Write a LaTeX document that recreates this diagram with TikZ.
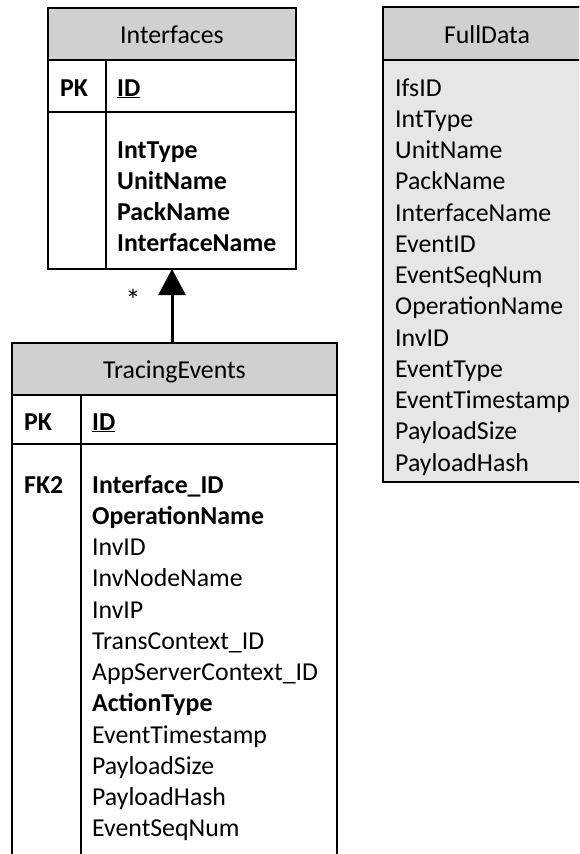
\documentclass[tikz,border=0pt]{standalone}
\usepackage{fontspec}
\setmainfont{Carlito}
\usetikzlibrary{arrows.meta}
\definecolor{hdrgray}{RGB}{208,208,208}
\definecolor{bodygray}{RGB}{230,230,230}
\tikzset{
  x=1pt, y=-1pt,
  tbl/.style={draw, line width=1.5pt, anchor=north west, inner sep=0pt, outer sep=0pt},
  hdr/.style={tbl, fill=hdrgray},
  fld/.style={anchor=base west, inner sep=0pt, font=\fontsize{25.8}{31}\selectfont},
  ttl/.style={anchor=base, inner sep=0pt, font=\fontsize{25.8}{31}\selectfont},
  rule/.style={line width=1.5pt},
  link/.style={line width=3pt, -{Triangle[length=26pt,width=27pt]}},
}
\begin{document}
\begin{tikzpicture}
\useasboundingbox (0,0) rectangle (579,854);
\clip (0,0) rectangle (579,854);

% ---------- Interfaces ----------
\node[tbl, minimum width=248pt, minimum height=261pt] (ifc) at (48,8) {};
\node[hdr, minimum width=248pt, minimum height=52pt] (ifchdr) at (48,8) {};
\draw[rule] (48,112) -- (296,112);
\draw[rule] (106,60) -- (106,269);
\node[ttl] (ifctitle) at (172,43) {Interfaces};
\node[fld] (ifcpk) at (60,96) {\textbf{PK}};
\node[fld] (ifcid) at (117,96) {\textbf{\underline{ID}}};
\node[fld] (ifcf1) at (117,158) {\textbf{IntType}};
\node[fld] (ifcf2) at (117,189.25) {\textbf{UnitName}};
\node[fld] (ifcf3) at (117,220.5) {\textbf{PackName}};
\node[fld] (ifcf4) at (117,251.75) {\textbf{InterfaceName}};

% ---------- TracingEvents (continues below the page) ----------
\node[tbl, minimum width=325pt, minimum height=540pt] (trc) at (12,343) {};
\node[hdr, minimum width=325pt, minimum height=52pt] (trchdr) at (12,343) {};
\draw[rule] (12,444) -- (337,444);
\draw[rule] (81,395) -- (81,880);
\node[ttl] (trctitle) at (174.5,378) {TracingEvents};
\node[fld] (trcpk) at (24,430) {\textbf{PK}};
\node[fld] (trcid) at (92,430) {\textbf{\underline{ID}}};
\node[fld] (trcfk) at (24,493) {\textbf{FK2}};
\node[fld] (trcf1) at (92,493) {\textbf{Interface\_ID}};
\node[fld] (trcf2) at (92,524.25) {\textbf{OperationName}};
\node[fld] (trcf3) at (92,555.5) {InvID};
\node[fld] (trcf4) at (92,586.75) {InvNodeName};
\node[fld] (trcf5) at (92,618) {InvIP};
\node[fld] (trcf6) at (92,649.25) {TransContext\_ID};
\node[fld] (trcf7) at (92,680.5) {AppServerContext\_ID};
\node[fld] (trcf8) at (92,711.75) {\textbf{ActionType}};
\node[fld] (trcf9) at (92,743) {EventTimestamp};
\node[fld] (trcf10) at (92,774.25) {PayloadSize};
\node[fld] (trcf11) at (92,805.5) {PayloadHash};
\node[fld] (trcf12) at (92,836.75) {EventSeqNum};

% ---------- FullData ----------
\node[tbl, fill=bodygray, minimum width=208pt, minimum height=475pt] (full) at (383,7) {};
\node[hdr, minimum width=208pt, minimum height=53pt] (fullhdr) at (383,7) {};
\node[ttl] (fulltitle) at (487,43) {FullData};
\node[fld] (fullf1) at (395,96) {IfsID};
\node[fld] (fullf2) at (395,127.25) {IntType};
\node[fld] (fullf3) at (395,158.5) {UnitName};
\node[fld] (fullf4) at (395,189.75) {PackName};
\node[fld] (fullf5) at (395,221) {InterfaceName};
\node[fld] (fullf6) at (395,252.25) {EventID};
\node[fld] (fullf7) at (395,283.5) {EventSeqNum};
\node[fld] (fullf8) at (395,314.75) {OperationName};
\node[fld] (fullf9) at (395,346) {InvID};
\node[fld] (fullf10) at (395,377.25) {EventType};
\node[fld] (fullf11) at (395,408.5) {EventTimestamp};
\node[fld] (fullf12) at (395,439.75) {PayloadSize};
\node[fld] (fullf13) at (395,471) {PayloadHash};

% ---------- association TracingEvents -> Interfaces ----------
\draw[link] (trc.north -| ifc.south) -- (ifc.south);
\node[anchor=base, inner sep=0pt, font=\fontsize{30}{34}\selectfont] (mult) at (133,310) {*};
\end{tikzpicture}
\end{document}
